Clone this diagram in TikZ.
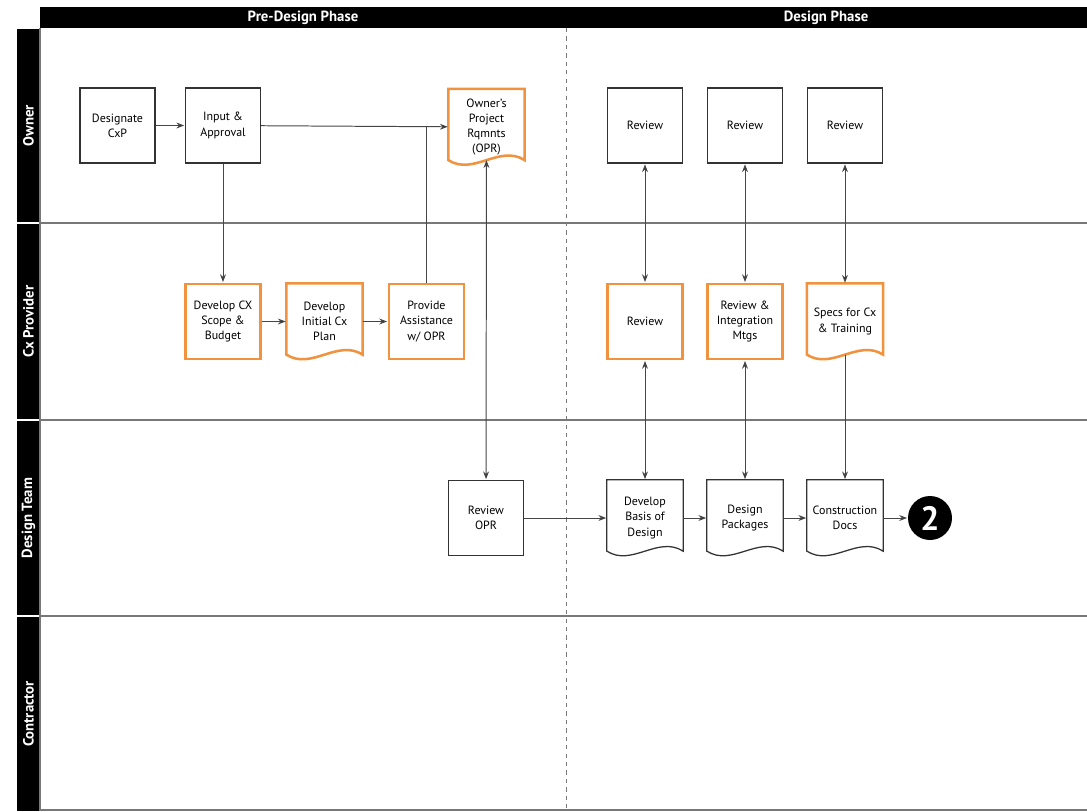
\documentclass[tikz,border=0pt]{standalone}
\usepackage{fontspec}
\setmainfont{PT Sans}
\usetikzlibrary{arrows.meta,positioning}
\definecolor{cxorange}{RGB}{240,146,62}
\definecolor{wire}{RGB}{70,70,70}
\definecolor{rule}{RGB}{120,120,120}
\tikzset{
  box/.style={draw=black!80,line width=0.9pt,minimum width=1.875cm,minimum height=1.875cm,
    inner sep=0pt,align=center,font=\fontsize{8.5}{10.8}\selectfont},
  cxbox/.style={box,draw=cxorange,line width=1.8pt},
  doc/.style={box,draw=none},
  flow/.style={->,>={Stealth[length=5.5pt,width=4.2pt]},draw=wire,line width=0.7pt,shorten >=0.5pt},
  twoway/.style={flow,<->,shorten <=0.5pt},
  lanename/.style={text=white,rotate=90,font=\fontsize{10.5}{10.5}\bfseries\selectfont},
  phasename/.style={text=white,font=\fontsize{10.5}{10.5}\bfseries\selectfont},
  endmark/.style={circle,fill=black,minimum size=1.1cm,inner sep=0pt,text=white,
    font=\fontsize{24}{24}\bfseries\selectfont},
  lanerule/.style={draw=rule,line width=0.8pt}
}
% document outline with a wavy bottom, drawn round a doc node
\newcommand\docline[2]{%
  \draw[#2,line join=miter] (#1.north west) -- ([yshift=0.125cm]#1.south west)
    .. controls +(0.625cm,-0.4cm) and +(-0.625cm,0.4cm) .. ([yshift=0.125cm]#1.south east)
    -- (#1.north east) -- cycle;}

\begin{document}
\begin{tikzpicture}[x=0.025cm,y=-0.025cm]
\useasboundingbox (0,0) rectangle (1087,811);

% header and lanes
\fill (40,7) rectangle (1087,28);
\node[phasename] (pre) at (303,17.5) {Pre-Design Phase};
\node[phasename] (des) at (826,17.5) {Design Phase};
\fill (17,29) rectangle (40,222);
\fill (17,224) rectangle (40,419);
\fill (17,421) rectangle (40,615);
\fill (17,617) rectangle (40,811);
\node[lanename] (owner) at (28.5,125.5) {Owner};
\node[lanename] (cxp) at (28.5,321.5) {Cx Provider};
\node[lanename] (team) at (28.5,518) {Design Team};
\node[lanename] (contr) at (28.5,714) {Contractor};
\draw[lanerule] (40,28) -- (40,811);
\draw[lanerule] (40,223) -- (1087,223);
\draw[lanerule] (40,420) -- (1087,420);
\draw[lanerule] (40,616) -- (1087,616);
\draw[lanerule] (40,810) -- (1087,810);
\draw[rule,dashed,line width=0.6pt] (566,28) -- (566,811);

% owner
\node[box] (dcxp) at (117.5,125.5) {Designate\\CxP};
\node[box] (inapp) at (223,125.5) {Input \&\\Approval};
\node[doc] (opr) at (486.5,127) {Owner’s\\Project\\Rqmnts\\(OPR)};
\node[box] (rev1) at (645,125.5) {Review};
\node[box] (rev2) at (745,125.5) {Review};
\node[box] (rev3) at (845,125.5) {Review};

% cx provider
\node[cxbox] (scope) at (223,321.5) {Develop CX\\Scope \&\\Budget};
\node[doc] (cxplan) at (324.5,321.5) {Develop\\Initial Cx\\Plan};
\node[cxbox] (assist) at (426.5,321.5) {Provide\\Assistance\\w/ OPR};
\node[cxbox] (cxrev) at (645,321.5) {Review};
\node[cxbox] (integ) at (745,321.5) {Review \&\\Integration\\Mtgs};
\node[doc] (specs) at (845,321.5) {Specs for Cx\\\& Training};

% design team
\node[box] (ropr) at (486,518) {Review\\OPR};
\node[doc] (bod) at (645,518) {Develop\\Basis of\\Design};
\node[doc] (pkgs) at (745,518) {Design\\Packages};
\node[doc] (cdocs) at (845,518) {Construction\\Docs};
\node[endmark] (two) at (930,518) {2};

\docline{opr}{draw=cxorange,line width=1.8pt}
\docline{cxplan}{draw=cxorange,line width=1.8pt}
\docline{specs}{draw=cxorange,line width=1.8pt}
\docline{bod}{draw=black!80,line width=0.9pt}
\docline{pkgs}{draw=black!80,line width=0.9pt}
\docline{cdocs}{draw=black!80,line width=0.9pt}

\coordinate (join) at (assist.north |- opr.west);
\draw[wire,line width=0.7pt] (assist) -- (join);

\path[flow]
  (dcxp) edge (inapp)
  (inapp) edge (opr)
  (inapp) edge (scope)
  (scope) edge (cxplan)
  (cxplan) edge (assist)
  (ropr) edge (bod)
  (bod) edge (pkgs)
  (pkgs) edge (cdocs)
  (cdocs) edge (two)
  (specs) edge[shorten <=-3.5pt] (cdocs)
  ;
\path[twoway]
  (opr) edge[shorten <=-3.5pt] (ropr)
  (rev1) edge (cxrev)
  (cxrev) edge (bod)
  (rev2) edge (integ)
  (integ) edge (pkgs)
  (rev3) edge (specs)
  ;
\end{tikzpicture}
\end{document}
